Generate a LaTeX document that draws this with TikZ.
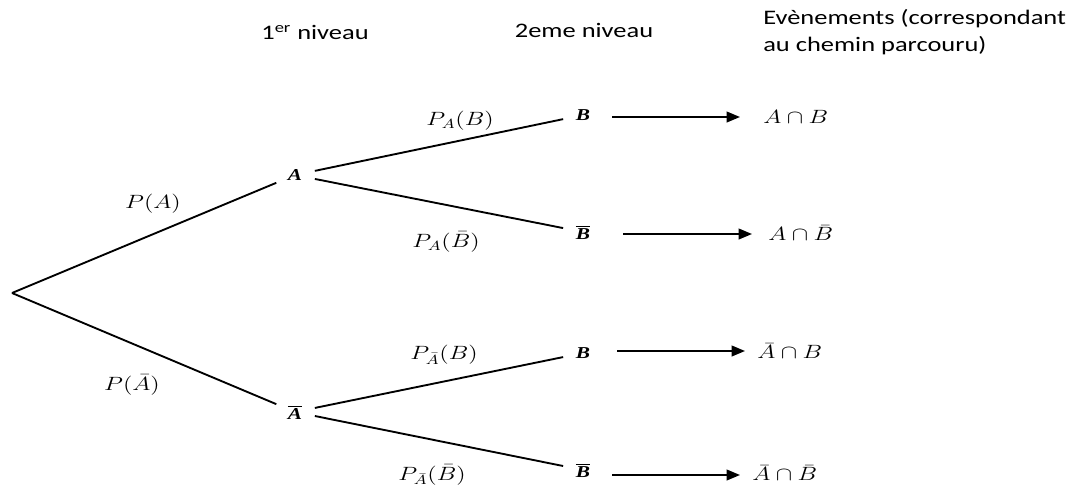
\documentclass[tikz,border=0pt]{standalone}
\usepackage{fontspec}
\usepackage{amsmath}
\usepackage{graphicx}
\newfontfamily\hdrfont{Carlito}
\newfontfamily\lblfont{Liberation Serif}
\usetikzlibrary{arrows.meta,calc}
\newcommand{\sx}[1]{\scalebox{1.28}[1]{#1}}
\tikzset{
  hdr/.style={font=\hdrfont\fontsize{15.5}{20}\selectfont, inner sep=0},
  prob/.style={font=\fontsize{14}{16}\selectfont, inner sep=0},
  ev/.style={font=\fontsize{14}{16}\selectfont, inner sep=0, anchor=west},
  state/.style={circle, minimum size=30pt, inner sep=0, font=\lblfont\bfseries\itshape\fontsize{12.5}{13}\selectfont},
  branch/.style={line width=1.4pt},
  res/.style={line width=1.4pt, -{Triangle[length=10pt,width=8pt]}},
}
\begin{document}
\begin{tikzpicture}[x=0.75pt,y=-0.75pt]
\useasboundingbox (0,0) rectangle (1075,486);
% headers
\node[hdr] (h1) at (315,32) {\sx{1\textsuperscript{er} niveau}};
\node[hdr] (h2) at (584,30) {\sx{2eme niveau}};
\node[hdr, anchor=west, align=left] (h3) at (763,32) {\sx{Evènements (correspondant}\\\sx{au chemin parcouru)}};
% tree nodes
\coordinate (O) at (12,293);
\node[state] (A) at (295,175) {\sx{A}};
\node[state] (Ab) at (295,412) {\sx{$\overline{\text{A}}$}};
\node[state] (B1) at (583,115) {\sx{B}};
\node[state] (B1b) at (583,232) {\sx{$\overline{\text{B}}$}};
\node[state] (B2) at (583,353) {\sx{B}};
\node[state] (B2b) at (583,470) {\sx{$\overline{\text{B}}$}};
% branches
\draw[branch] (O) -- (A);
\draw[branch] (O) -- (Ab);
\draw[branch] (A) -- (B1);
\draw[branch] (A) -- (B1b);
\draw[branch] (Ab) -- (B2);
\draw[branch] (Ab) -- (B2b);
% probabilities
\node[prob] (pA) at (153,204) {\sx{$P(A)$}};
\node[prob] (pAb) at (132,385) {\sx{$P(\bar{A})$}};
\node[prob] (pAB) at (460,121) {\sx{$P_A(B)$}};
\node[prob] (pABb) at (446,242) {\sx{$P_A(\bar{B})$}};
\node[prob] (pAbB) at (444,355) {\sx{$P_{\bar{A}}(B)$}};
\node[prob] (pAbBb) at (432,475) {\sx{$P_{\bar{A}}(\bar{B})$}};
% events
\node[ev] (E1) at (763,117) {\sx{$A\cap B$}};
\node[ev] (E2) at (768,233) {\sx{$A\cap\bar{B}$}};
\node[ev] (E3) at (757,351) {\sx{$\bar{A}\cap B$}};
\node[ev] (E4) at (752,473) {\sx{$\bar{A}\cap\bar{B}$}};
\draw[res] ($(B1.center)+(29,2)$) -- ($(E1.west)+(-23,0)$);
\draw[res] ($(B1b.center)+(40,2)$) -- ($(E2.west)+(-16,1)$);
\draw[res] ($(B2.center)+(34,-2)$) -- ($(E3.west)+(-12,0)$);
\draw[res] ($(B2b.center)+(29,5)$) -- ($(E4.west)+(-12,2)$);
\end{tikzpicture}
\end{document}
